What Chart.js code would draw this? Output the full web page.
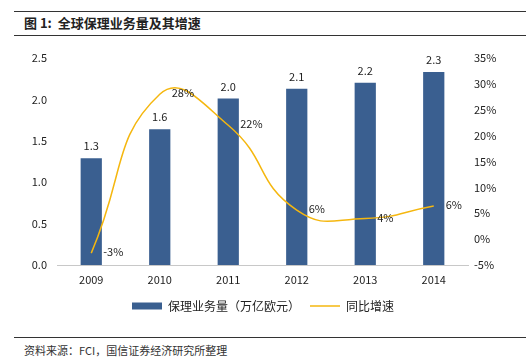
<!DOCTYPE html>
<html>
<head>
<meta charset="utf-8">
<script src="https://cdn.jsdelivr.net/npm/chart.js@4/dist/chart.umd.min.js"></script>
<style>
  html, body { margin: 0; padding: 0; background: #fff; }
  body { width: 526px; height: 364px; position: relative; overflow: hidden;
         font-family: 'Noto Sans CJK SC', sans-serif; color: #222; }
  .rule { position: absolute; left: 14px; right: 0; border-top: 1px solid #333; }
  #title { position: absolute; left: 24px; top: 13px; font-size: 13px; font-weight: bold; line-height: 20px; }
  #source { position: absolute; left: 24px; top: 342px; font-size: 11px; line-height: 16px; color: #333; }
  #wrap { position: absolute; left: 0; top: 0; width: 526px; height: 330px; }
</style>
</head>
<body>
<div class="rule" style="top:11px"></div>
<div id="title">图 1:&nbsp; 全球保理业务量及其增速</div>
<div class="rule" style="top:35px; border-top-width:1.5px"></div>
<div id="wrap"><canvas id="chart"></canvas></div>
<div class="rule" style="top:337px"></div>
<div id="source">资料来源：FCI，国信证券经济研究所整理</div>

<script>
const years = ['2009', '2010', '2011', '2012', '2013', '2014'];
const volume = [1.29, 1.64, 2.01, 2.13, 2.2, 2.33];   // 万亿欧元
const growth = [-2.7, 28, 22, 5.6, 4.0, 6.4];         // %

const blue = '#3a5f90';
const gold = '#f5b70f';

// value labels above the bars and beside the line points
const valueLabels = {
  id: 'valueLabels',
  afterDatasetsDraw(chart) {
    const ctx = chart.ctx;
    ctx.save();
    ctx.font = '11px "Noto Sans CJK SC", sans-serif';
    ctx.fillStyle = '#222';
    ctx.textBaseline = 'middle';

    const bars = chart.getDatasetMeta(0).data;
    ctx.textAlign = 'center';
    bars.forEach((bar, i) => {
      ctx.fillText(volume[i].toFixed(1), bar.x, bar.y - 12);
    });

    const pts = chart.getDatasetMeta(1).data;
    ctx.textAlign = 'left';
    pts.forEach((p, i) => {
      ctx.fillText(Math.round(growth[i]) + '%', p.x + 12, p.y - 1);
    });
    ctx.restore();
  },
};

const tickFont = { family: '"Noto Sans CJK SC", sans-serif', size: 11 };

new Chart(document.getElementById('chart'), {
  data: {
    labels: years,
    datasets: [
      {
        type: 'bar',
        label: '保理业务量（万亿欧元）',
        data: volume,
        backgroundColor: blue,
        yAxisID: 'y',
        barPercentage: 0.62,
        categoryPercentage: 0.5,
        order: 2,
      },
      {
        type: 'line',
        label: '同比增速',
        data: growth,
        borderColor: gold,
        backgroundColor: gold,
        borderWidth: 1.5,
        pointRadius: 0,
        tension: 0.5,
        yAxisID: 'y1',
        order: 1,
      },
    ],
  },
  options: {
    animation: false,
    responsive: true,
    maintainAspectRatio: false,
    layout: { padding: { top: 58, left: 0, right: 0, bottom: 8 } },
    scales: {
      x: {
        grid: { display: false, drawTicks: false },
        border: { color: '#c8c8c8' },
        ticks: { color: '#222', font: tickFont, padding: 8 },
        afterFit(s) { s.height = 25; },
      },
      y: {
        position: 'left',
        min: 0,
        max: 2.5,
        grid: { display: false, drawTicks: false },
        border: { display: false },
        ticks: {
          stepSize: 0.5,
          color: '#222',
          font: tickFont,
          padding: 10,
          callback: (v) => v.toFixed(1),
        },
        afterFit(s) { s.width = 57; },
      },
      y1: {
        position: 'right',
        min: -5,
        max: 35,
        grid: { display: false, drawTicks: false },
        border: { display: false },
        ticks: {
          stepSize: 5,
          color: '#222',
          font: tickFont,
          padding: 6,
          callback: (v) => v + '%',
        },
        afterFit(s) { s.width = 58; },
      },
    },
    plugins: {
      legend: {
        position: 'bottom',
        labels: {
          color: '#222',
          font: { family: '"Noto Sans CJK SC", sans-serif', size: 12 },
          usePointStyle: true,
          pointStyleWidth: 30,
          boxHeight: 7,
          padding: 10,
          sort: (a, b) => a.datasetIndex - b.datasetIndex,
          generateLabels(chart) {
            const items = Chart.defaults.plugins.legend.labels.generateLabels(chart);
            items.forEach((it) => {
              if (it.datasetIndex === 0) {
                it.pointStyle = 'rect';
                it.lineWidth = 0;
              } else {
                it.pointStyle = 'line';
                it.lineWidth = 1.5;
              }
            });
            return items;
          },
        },
      },
      tooltip: { enabled: false },
    },
  },
  plugins: [valueLabels],
});
</script>
</body>
</html>
